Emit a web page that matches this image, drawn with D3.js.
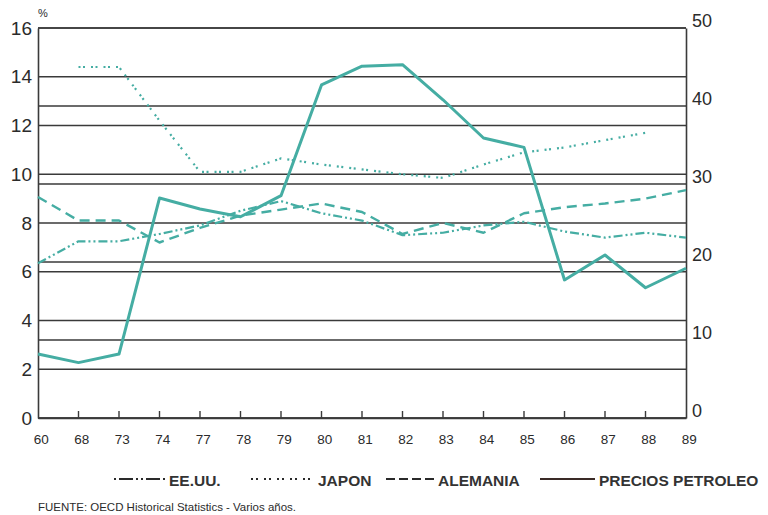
<!DOCTYPE html>
<html><head><meta charset="utf-8">
<script src="https://cdn.jsdelivr.net/npm/d3@7"></script>
<style>
html,body{margin:0;padding:0;background:#fff;}
svg{display:block;font-family:"Liberation Sans",Arial,sans-serif;}
</style></head>
<body><svg id="c" width="768" height="515"></svg>
<script>
const years = ["60","68","73","74","77","78","79","80","81","82","83","84","85","86","87","88","89"];
const eeuu     = [6.35,7.25,7.25,7.55,7.9,8.5,8.9,8.4,8.1,7.5,7.6,7.9,8.05,7.65,7.4,7.6,7.4];
const japon    = [null,14.4,14.4,12.2,10.1,10.1,10.65,10.4,10.2,10.0,9.85,10.4,10.9,11.1,11.4,11.7,null];
const alemania = [9.07,8.1,8.1,7.2,7.8,8.3,8.55,8.8,8.45,7.55,8.0,7.6,8.4,8.65,8.8,9.0,9.35];
const petroleo = [8.2,7.1,8.2,28.2,26.8,25.8,28.5,42.7,45.1,45.3,40.8,35.9,34.7,17.7,20.9,16.7,19.2];
const leftTicks = [0,2,4,6,8,10,12,14,16];
const rightTicks = [0,10,20,30,40,50];
const legendLabels = ["EE.UU.","JAPON","ALEMANIA","PRECIOS PETROLEO"];
const sourceText = "FUENTE: OECD Historical Statistics - Varios años.";

const svg = d3.select("#c");
const L=38, R=686, T=28, B=418;
const x = d3.scalePoint().domain(years).range([L,R]).padding(0);
const yL = d3.scaleLinear().domain([0,16]).range([B,T]);
const yR = d3.scaleLinear().domain([0,50]).range([B,T]);
const grid = "#3a3a3a", teal = "#45ada3", txt = "#2b2b2b";

// gridlines
svg.append("g").selectAll("line").data(leftTicks).join("line")
  .attr("x1",L).attr("x2",R).attr("y1",d=>yL(d)).attr("y2",d=>yL(d))
  .attr("stroke",grid).attr("stroke-width",1.4);
svg.append("g").selectAll("line").data(rightTicks).join("line")
  .attr("x1",L).attr("x2",R).attr("y1",d=>yR(d)).attr("y2",d=>yR(d))
  .attr("stroke",grid).attr("stroke-width",1.4);

// axes
const axL = d3.axisLeft(yL).tickValues(leftTicks).tickSize(0).tickPadding(6);
const gL = svg.append("g").attr("transform",`translate(${L},0)`).call(axL);
gL.select(".domain").attr("stroke",grid).attr("stroke-width",1.6);
gL.selectAll("text").attr("font-size",19).attr("fill",txt);
const axR = d3.axisRight(yR).tickValues(rightTicks).tickSize(0).tickPadding(6);
const gR = svg.append("g").attr("transform",`translate(${R},0)`).call(axR);
gR.select(".domain").attr("stroke",grid).attr("stroke-width",1.6);
gR.selectAll("text").attr("font-size",18).attr("fill",txt).attr("dy","-0.1em");
const axB = d3.axisBottom(x).tickSize(0).tickPadding(16);
const gB = svg.append("g").attr("transform",`translate(0,${B})`).call(axB);
gB.select(".domain").attr("stroke",grid).attr("stroke-width",1.6);
gB.selectAll("text").attr("font-size",13.5).attr("fill",txt).attr("dx","0.2em");
// inner tick marks
svg.append("g").selectAll("line").data(years.slice(1,-1)).join("line")
  .attr("x1",d=>x(d)).attr("x2",d=>x(d)).attr("y1",B).attr("y2",B-7)
  .attr("stroke",grid).attr("stroke-width",1.4);

svg.append("text").attr("x",38).attr("y",17).attr("font-size",11).attr("fill",txt).text("%");

// series
const lineL = d3.line().defined(d=>d!=null).x((d,i)=>x(years[i])).y(d=>yL(d));
const lineR = d3.line().x((d,i)=>x(years[i])).y(d=>yR(d));
const series = [
  {data:eeuu, dash:"9,3,2,3,2,3", w:2.2, f:lineL},
  {data:japon, dash:"2,2.5,2,6", w:2.2, f:lineL},
  {data:alemania, dash:"10,6", w:2.4, f:lineL},
  {data:petroleo, dash:null, w:3, f:lineR}
];
series.forEach(s=>{
  svg.append("path").datum(s.data).attr("d",s.f).attr("fill","none")
    .attr("stroke",teal).attr("stroke-width",s.w)
    .attr("stroke-dasharray",s.dash).attr("stroke-linejoin","round");
});

// legend
const legItems = [
  {x1:114,x2:166,tx:169,dash:"2,3,14,3,2,3"},
  {x1:251,x2:312,tx:318,dash:"2,3,2,6"},
  {x1:386,x2:434,tx:438,dash:"9,4"},
  {x1:540,x2:595,tx:599,dash:null}
];
legItems.forEach((it,i)=>{
  svg.append("line").attr("x1",it.x1).attr("x2",it.x2).attr("y1",479).attr("y2",479)
    .attr("stroke",i===3?"#3a2a26":"#2a2a2a").attr("stroke-width",2.2).attr("stroke-dasharray",it.dash);
  svg.append("text").attr("x",it.tx).attr("y",485.5).attr("font-size",15.5).attr("font-weight","bold")
    .attr("fill","#333").text(legendLabels[i]);
});
svg.append("text").attr("x",38).attr("y",511).attr("font-size",10.5)
  .attr("fill",txt).attr("textLength",258).attr("lengthAdjust","spacingAndGlyphs").text(sourceText);
</script></body></html>
